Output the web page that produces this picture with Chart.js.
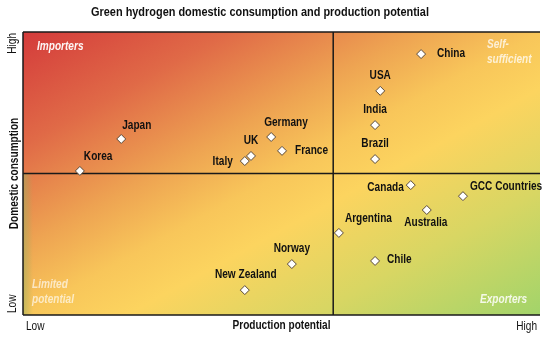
<!DOCTYPE html>
<html>
<head>
<meta charset="utf-8">
<script src="https://cdn.jsdelivr.net/npm/chart.js@4.4.0/dist/chart.umd.min.js"></script>
<style>
html,body{margin:0;padding:0;background:#fff;}
#wrap{width:550px;height:340px;}
</style>
</head>
<body>
<div id="wrap"><canvas id="c" width="550" height="340"></canvas></div>
<script>
const countries = ["Korea","Japan","Italy","UK","Germany","France","China","USA","India","Brazil","Canada","GCC Countries","Australia","Argentina","Chile","Norway","New Zealand"];
const productionPotential = [1.1,1.9,4.29,4.41,4.8,5.01,7.7,6.91,6.81,6.81,7.5,8.51,7.81,6.11,6.81,5.2,4.29];
const domesticConsumption = [5.09,6.22,5.44,5.62,6.29,5.8,9.22,7.92,6.71,5.51,4.59,4.2,3.71,2.9,1.91,1.8,0.88];
const quadrantSplitX = 6;
const quadrantSplitY = 5;
const titleText = "Green hydrogen domestic consumption and production potential";
const xAxisTitle = "Production potential";
const yAxisTitle = "Domestic consumption";
const lowHighTicks = ["Low","High"];
const quadrantNames = [["Importers"],["Self-","sufficient"],["Limited","potential"],["Exporters"]];

// label placement: [align, dx, dy]
const labelPlacement = [
  ["left",4,-14],["left",1,-13],["right",-12,1],["center",0,-15],["left",-7,-14],["left",13,0],
  ["left",16,0],["center",0,-15],["center",0,-15],["center",0,-15],["right",-7,3],["left",7,-9],
  ["center",-1,13],["left",6,-14],["left",12,-1],["center",0,-15],["center",1,-15]
];

const FONT = '"Liberation Sans",Arial,sans-serif';
const NARROW = 0.84;

function narrowText(ctx, text, x, y, align){
  ctx.save();
  ctx.translate(x, y);
  ctx.scale(NARROW, 1);
  ctx.textAlign = align;
  ctx.fillText(text, 0, 0);
  ctx.restore();
}

const points = productionPotential.map((x,i)=>({x:x,y:domesticConsumption[i]}));

const bgPlugin = {
  id:'bg',
  beforeDatasetsDraw(chart){
    const {ctx, chartArea:a, scales} = chart;
    const w = a.right-a.left, h = a.bottom-a.top;
    const k = 2*h*w/(h*h+w*w);
    const g = ctx.createLinearGradient(a.left, a.top, a.left+h*k, a.top+w*k);
    g.addColorStop(0, '#d43b3b');
    g.addColorStop(0.2, '#e06a47');
    g.addColorStop(0.38, '#eea452');
    g.addColorStop(0.5, '#f8c65a');
    g.addColorStop(0.6, '#fcd45f');
    g.addColorStop(0.78, '#d8d663');
    g.addColorStop(1, '#a2d46a');
    ctx.save();
    ctx.fillStyle = g;
    ctx.fillRect(a.left, a.top, w, h);
    const mx = scales.x.getPixelForValue(quadrantSplitX);
    const my = scales.y.getPixelForValue(quadrantSplitY);
    // faint olive strip along lower-left edge
    const s = ctx.createLinearGradient(a.left, 0, a.left+10, 0);
    s.addColorStop(0, 'rgba(150,175,95,0.55)');
    s.addColorStop(1, 'rgba(150,175,95,0)');
    ctx.fillStyle = s;
    ctx.fillRect(a.left, my, 10, a.bottom-my);
    ctx.strokeStyle = '#1a1a1a';
    ctx.lineWidth = 1.5;
    ctx.beginPath();
    ctx.moveTo(a.left, a.top); ctx.lineTo(a.right, a.top);
    ctx.moveTo(a.left, a.top); ctx.lineTo(a.left, a.bottom);
    ctx.moveTo(a.left, a.bottom); ctx.lineTo(a.right, a.bottom);
    ctx.moveTo(mx, a.top); ctx.lineTo(mx, a.bottom);
    ctx.moveTo(a.left, my); ctx.lineTo(a.right, my);
    ctx.stroke();
    ctx.font = 'italic bold 12px ' + FONT;
    ctx.textBaseline = 'middle';
    const qpos = [
      {x:a.left+14, y:a.top+15, c:'rgba(255,255,255,0.95)'},
      {x:a.right-53, y:a.top+13, c:'rgba(255,255,255,0.75)'},
      {x:a.left+9, y:a.bottom-30, c:'rgba(255,255,255,0.65)'},
      {x:a.right-60, y:a.bottom-15, c:'rgba(255,255,255,0.85)'}
    ];
    quadrantNames.forEach((lines,i)=>{
      const p = qpos[i];
      ctx.fillStyle = p.c;
      lines.forEach((t,j)=>narrowText(ctx, t, p.x, p.y + j*15, 'left'));
    });
    ctx.restore();
  },
  afterDatasetsDraw(chart){
    const {ctx} = chart;
    const meta = chart.getDatasetMeta(0);
    ctx.save();
    ctx.font = 'bold 12px ' + FONT;
    ctx.fillStyle = '#111';
    ctx.textBaseline = 'middle';
    meta.data.forEach((el,i)=>{
      const [al,dx,dy] = labelPlacement[i];
      narrowText(ctx, countries[i], el.x+dx, el.y+dy, al);
    });
    ctx.restore();
  },
  afterDraw(chart){
    const {ctx, chartArea:a} = chart;
    ctx.save();
    ctx.fillStyle = '#111';
    ctx.textBaseline = 'middle';
    ctx.font = 'bold 13px ' + FONT;
    narrowText(ctx, titleText, 260, 12, 'center');
    ctx.font = 'bold 12px ' + FONT;
    narrowText(ctx, xAxisTitle, (a.left+a.right)/2, a.bottom+11, 'center');
    ctx.font = '12px ' + FONT;
    narrowText(ctx, lowHighTicks[0], a.left+3, a.bottom+12, 'left');
    narrowText(ctx, lowHighTicks[1], a.right-3, a.bottom+12, 'right');
    ctx.translate(13, 0);
    ctx.rotate(-Math.PI/2);
    ctx.font = 'bold 12px ' + FONT;
    narrowText(ctx, yAxisTitle, -(a.top+a.bottom)/2, 2, 'center');
    ctx.font = '12px ' + FONT;
    narrowText(ctx, lowHighTicks[1], -a.top-1, 0, 'right');
    narrowText(ctx, lowHighTicks[0], -a.bottom+2, 0, 'left');
    ctx.restore();
  }
};

new Chart(document.getElementById('c'), {
  type:'scatter',
  data:{datasets:[{
    data: points,
    pointStyle:'rectRot',
    pointRadius:4.5,
    pointHoverRadius:4.5,
    backgroundColor:'#ffffff',
    borderColor:'#5a4a3a',
    borderWidth:1
  }]},
  options:{
    responsive:false,
    animation:false,
    layout:{padding:{left:23,right:10,top:32,bottom:25}},
    plugins:{legend:{display:false},tooltip:{enabled:false},title:{display:false}},
    scales:{
      x:{type:'linear',min:0,max:10,display:false},
      y:{type:'linear',min:0,max:10,display:false}
    }
  },
  plugins:[bgPlugin]
});
</script>
</body>
</html>
